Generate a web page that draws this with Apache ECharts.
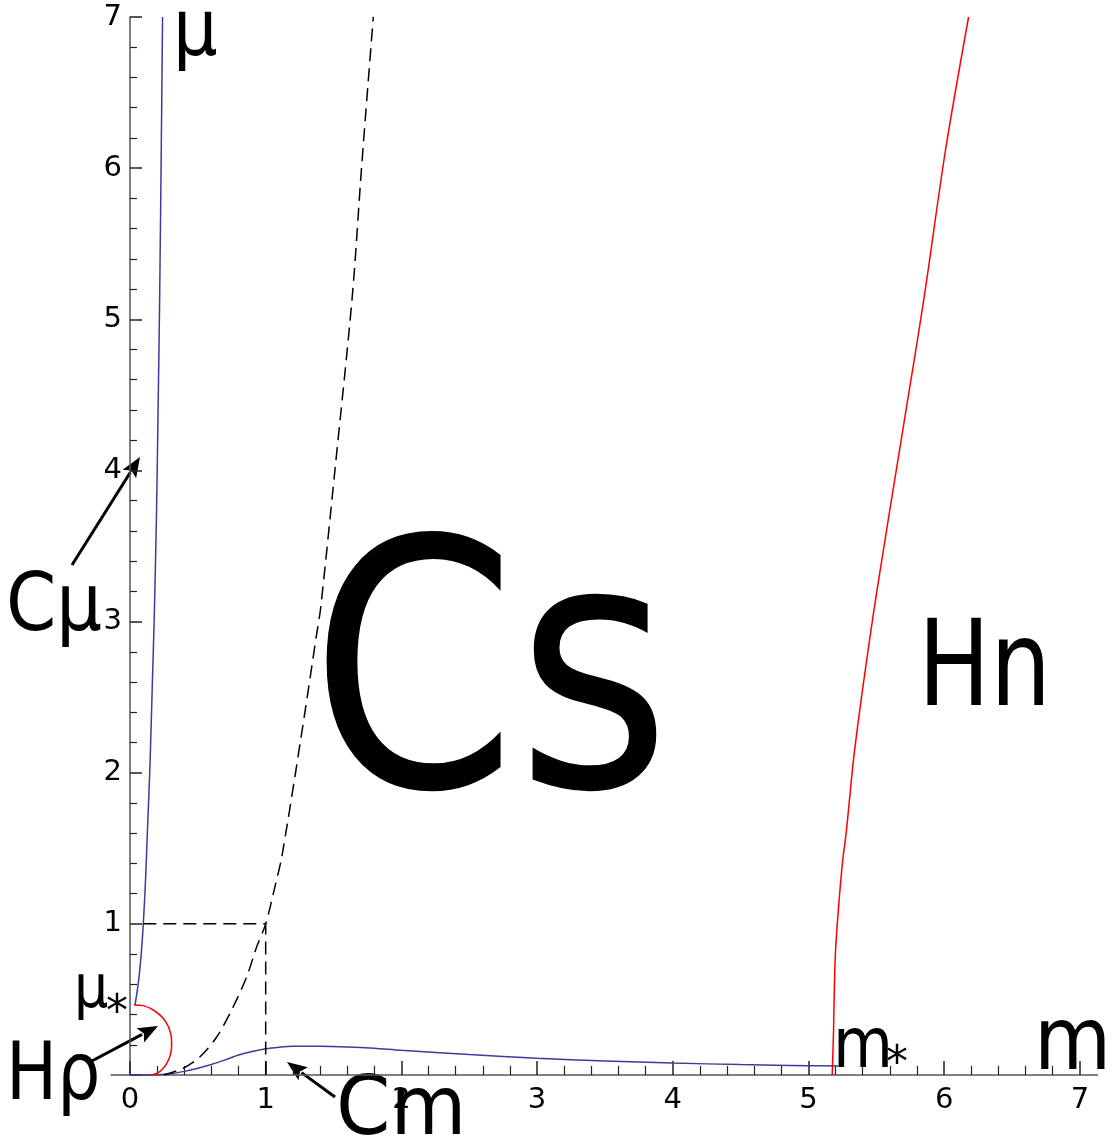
<!DOCTYPE html>
<html>
<head>
<meta charset="utf-8">
<script src="https://cdn.jsdelivr.net/npm/echarts@6/dist/echarts.min.js"></script>
<style>
html, body { margin: 0; padding: 0; background: #fff; }
#view { width: 1114px; height: 1144px; }
</style>
</head>
<body>
<div id="view"></div>
<script>
var myChart = echarts.init(document.getElementById('view'));

// curves, (m, mu) pairs
var cmuM  = [0.037, 0.06, 0.079, 0.098, 0.115, 0.13, 0.147, 0.165, 0.178, 0.195, 0.207, 0.218, 0.229, 0.24];
var cmuMu = [0.463, 0.6, 0.76, 1.0, 1.3, 1.65, 2.04, 2.6, 3.0, 3.7, 4.4, 5.1, 6.0, 7.0];

var cmM  = [0, 0.2, 0.3, 0.4, 0.5, 0.6, 0.7, 0.8, 0.9, 1.0, 1.1, 1.2, 1.4, 1.6, 1.8, 2.0, 2.5, 3.0, 3.5, 4.0, 4.5, 5.0, 5.22];
var cmMu = [0, 0.002, 0.008, 0.024, 0.045, 0.07, 0.1, 0.132, 0.156, 0.174, 0.184, 0.19, 0.19, 0.186, 0.177, 0.163, 0.136, 0.111, 0.093, 0.079, 0.069, 0.062, 0.059];

var hpM  = [0.03, 0.098, 0.172, 0.24, 0.283, 0.303, 0.307, 0.298, 0.27, 0.235, 0.2, 0.16];
var hpMu = [0.463, 0.459, 0.43, 0.38, 0.32, 0.26, 0.2, 0.135, 0.075, 0.035, 0.012, 0.0];

var hnM  = [5.175, 5.185, 5.19, 5.2, 5.22, 5.25, 5.28, 5.34, 5.47, 5.6, 5.73, 5.85, 6.01, 6.18];
var hnMu = [0, 0.3, 0.55, 0.83, 1.09, 1.4, 1.62, 2.15, 3.0, 3.74, 4.46, 5.13, 6.12, 7.0];

var dashM  = [0.25, 0.39, 0.516, 0.64, 0.76, 0.86, 0.934, 1.0, 1.068, 1.12, 1.265, 1.376, 1.405, 1.51, 1.638, 1.707, 1.793];
var dashMu = [0, 0.044, 0.121, 0.253, 0.45, 0.65, 0.849, 1.0, 1.245, 1.45, 2.26, 2.92, 3.09, 4.0, 5.15, 6.01, 7.0];

var guideM  = [0.098, 1, 1];
var guideMu = [1, 1, 0];

var xTicks = [0, 1, 2, 3, 4, 5, 6, 7];
var xMinor = [];
for (var k = 1; k <= 35; k++) {
    if (k % 5 != 0) xMinor.push(k / 5);
}

function pairs(xs, ys) {
    var out = [];
    for (var i = 0; i < xs.length; i++) out.push([xs[i], ys[i]]);
    return out;
}

var blue = '#3d3d99';
var font = 'DejaVu Sans';

function curve(xs, ys, color, dashed) {
    return {
        type: 'line',
        xAxisIndex: 0,
        yAxisIndex: 0,
        data: pairs(xs, ys),
        showSymbol: false,
        smooth: 0.3,
        silent: true,
        clip: false,
        lineStyle: {
            color: color,
            width: 1.5,
            type: dashed ? [13, 7] : 'solid'
        }
    };
}

// text is a bit narrower than plain DejaVu in the original, so squeeze it
function label(text, x, y, size, sx) {
    return {
        type: 'text',
        x: x, y: y,
        scaleX: sx || 1,
        style: { text: text, font: size + 'px "' + font + '"', fill: '#000' }
    };
}

function arrow(x1, y1, x2, y2) {
    var dx = x2 - x1, dy = y2 - y1;
    var len = Math.sqrt(dx * dx + dy * dy);
    var ux = dx / len, uy = dy / len;
    var hl = 20, hw = 8;
    var bx = x2 - ux * hl, by = y2 - uy * hl;
    return [{
        type: 'line',
        shape: { x1: x1, y1: y1, x2: bx + ux * 2, y2: by + uy * 2 },
        style: { stroke: '#000', lineWidth: 3 }
    }, {
        type: 'polygon',
        shape: { points: [[x2, y2], [bx - uy * hw, by + ux * hw], [bx + ux * 4, by + uy * 4], [bx + uy * hw, by - ux * hw]] },
        style: { fill: '#000' }
    }];
}

var graphics = [
    label('μ', 173, -4, 78, 0.9),
    label('Cs', 310, 525, 344, 0.86),
    label('Hn', 918, 614, 120, 0.8),
    label('Cμ', 6, 569, 80, 0.9),
    label('Hρ', 6, 1038, 80, 0.85),
    label('Cm', 336, 1072, 82, 0.95),
    label('μ', 74, 961, 60, 0.9),
    label('*', 106, 993, 44),
    label('m', 833, 1014, 70, 0.88),
    label('*', 886, 1044, 44),
    label('m', 1034, 1002, 88, 0.9)
].concat(arrow(72, 565, 140, 457), arrow(90, 1062, 158, 1026), arrow(335, 1097, 287, 1062));

var option = {
    animation: false,
    backgroundColor: '#fff',
    grid: { left: 111, right: 16.5, top: 17, bottom: 69, containLabel: false },
    xAxis: [{
        type: 'value',
        min: -0.14,
        max: 7.13,
        position: 'bottom',
        axisLine: { onZero: true, onZeroAxisIndex: 0, lineStyle: { color: '#555', width: 1.5 } },
        axisTick: { inside: true, length: 14, customValues: xTicks, lineStyle: { color: '#222', width: 1.5 } },
        axisLabel: { customValues: xTicks, margin: 11, fontSize: 29, fontFamily: font, color: '#000' },
        splitLine: { show: false }
    }, {
        type: 'value',
        min: -0.14,
        max: 7.13,
        position: 'bottom',
        axisLine: { show: false, onZero: true, onZeroAxisIndex: 0 },
        axisTick: { inside: true, length: 9, customValues: xMinor, lineStyle: { color: '#222', width: 1.2 } },
        axisLabel: { show: false },
        splitLine: { show: false }
    }],
    yAxis: [{
        type: 'value',
        min: 0,
        max: 7,
        interval: 1,
        axisLine: { onZero: true, onZeroAxisIndex: 0, lineStyle: { color: '#555', width: 1.5 } },
        axisTick: { inside: true, length: 12, lineStyle: { color: '#222', width: 1.5 } },
        minorTick: { show: true, splitNumber: 5, length: 7, lineStyle: { color: '#222', width: 1.2 } },
        axisLabel: {
            // labels stay at the grid edge, the axis line sits at m = 0
            margin: -11, fontSize: 29, fontFamily: font, color: '#000',
            formatter: function (v) { return v == 0 ? '' : v; }
        },
        splitLine: { show: false }
    }],
    series: [
        curve(cmuM, cmuMu, blue),
        curve(cmM, cmMu, blue),
        curve(hpM, hpMu, '#ff0000'),
        curve(hnM, hnMu, '#ff0000'),
        curve(dashM, dashMu, '#000', true),
        {
            type: 'line',
            data: pairs(guideM, guideMu),
            showSymbol: false,
            silent: true,
            lineStyle: { color: '#000', width: 1.5, type: [13, 7] }
        }
    ],
    graphic: graphics
};

myChart.setOption(option);
</script>
</body>
</html>
